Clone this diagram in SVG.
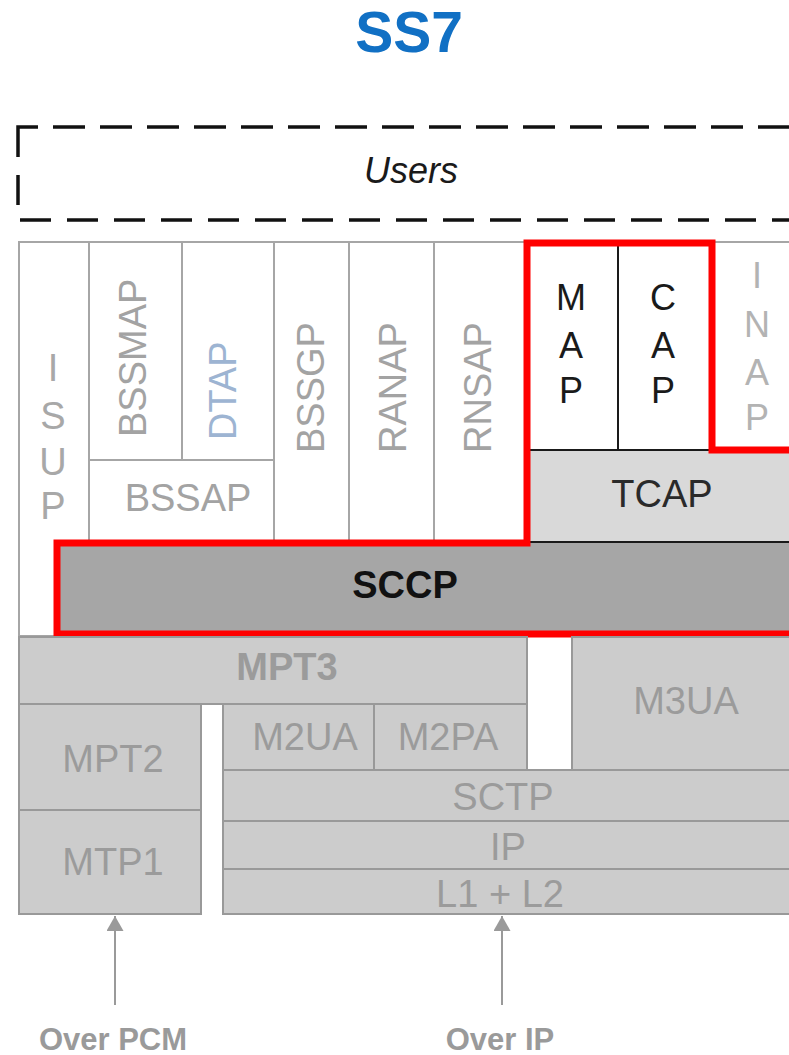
<svg xmlns="http://www.w3.org/2000/svg" width="789" height="1055" viewBox="0 0 789 1055">
  <style>
    text { font-family: "Liberation Sans", Arial, sans-serif; }
    .title { font-size: 57px; font-weight: bold; fill: #1170c4; text-anchor: middle; }
    .users { font-size: 36px; font-style: italic; fill: #1a1a1a; text-anchor: middle; }
    .dash { fill: none; stroke: #111; stroke-width: 3.5; }
    .col { fill: #ffffff; stroke: #a6a6a6; stroke-width: 2; }
    .colk { fill: #ffffff; stroke: #1a1a1a; stroke-width: 2; }
    .up { font-size: 38px; fill: #a3a3a3; }
    .stk { font-size: 36px; text-anchor: middle; }
    .isup { font-size: 38px; fill: #a8a8a8; text-anchor: middle; }
    .low { fill: #cccccc; stroke: #999999; stroke-width: 2; }
    .lt { font-size: 38px; fill: #9b9b9b; text-anchor: middle; }
    .red { fill: none; stroke: #ff0000; stroke-width: 7; stroke-linejoin: miter; }
    .conn { stroke: #9a9a9a; stroke-width: 2; fill: none; }
    .foot { font-size: 31px; font-weight: bold; fill: #9a9a9a; text-anchor: middle; }
  </style>
  <defs>
    <marker id="arrowhead" viewBox="0 0 15 17" refX="15" refY="8.5" markerWidth="15" markerHeight="17" markerUnits="userSpaceOnUse" orient="auto">
      <path d="M0,0 L15,8.5 L0,17 Z" fill="#9a9a9a"/>
    </marker>
  </defs>

  <rect width="789" height="1055" fill="#ffffff"/>

  <text id="title" class="title" x="409" y="52">SS7</text>

  <!-- Users layer (dashed frame) -->
  <g id="users">
    <path class="dash" d="M18,157 V127 H38"/>
    <path class="dash" d="M53,127 H800" stroke-dasharray="32 15"/>
    <path class="dash" d="M18,175 V205"/>
    <path class="dash" d="M20,220 H800" stroke-dasharray="31 16"/>
    <text class="users" x="411" y="183">Users</text>
  </g>

  <!-- Upper protocol columns -->
  <g id="isup">
    <rect class="col" x="19" y="242" width="70" height="394"/>
    <text class="isup" x="53" y="381">I</text>
    <text class="isup" x="53" y="429">S</text>
    <text class="isup" x="53" y="475">U</text>
    <text class="isup" x="53" y="519">P</text>
  </g>
  <g id="bssmap">
    <rect class="col" x="89" y="242" width="93" height="218"/>
    <text class="up" transform="translate(146,437) rotate(-90)">BSSMAP</text>
  </g>
  <g id="dtap">
    <rect class="col" x="182" y="242" width="92" height="218"/>
    <text class="up" transform="translate(236,440) rotate(-90)" style="fill:#9db4d2">DTAP</text>
  </g>
  <g id="bssap">
    <rect class="col" x="89" y="460" width="185" height="83"/>
    <text class="up" x="188" y="511" text-anchor="middle">BSSAP</text>
  </g>
  <g id="bssgp">
    <rect class="col" x="274" y="242" width="75" height="301"/>
    <text class="up" transform="translate(324,453) rotate(-90)">BSSGP</text>
  </g>
  <g id="ranap">
    <rect class="col" x="349" y="242" width="85" height="301"/>
    <text class="up" transform="translate(406,453) rotate(-90)">RANAP</text>
  </g>
  <g id="rnsap">
    <rect class="col" x="434" y="242" width="93" height="301"/>
    <text class="up" transform="translate(491,453) rotate(-90)">RNSAP</text>
  </g>
  <g id="inap">
    <rect class="col" x="712" y="242" width="90" height="208"/>
    <text class="stk" x="757" y="288" fill="#b3b3b3">I</text>
    <text class="stk" x="757" y="337" fill="#b3b3b3">N</text>
    <text class="stk" x="757" y="385" fill="#b3b3b3">A</text>
    <text class="stk" x="757" y="430" fill="#b3b3b3">P</text>
  </g>
  <g id="map">
    <rect class="colk" x="527" y="243" width="91" height="207"/>
    <text class="stk" x="571" y="310" fill="#1a1a1a">M</text>
    <text class="stk" x="571" y="358" fill="#1a1a1a">A</text>
    <text class="stk" x="571" y="403" fill="#1a1a1a">P</text>
  </g>
  <g id="cap">
    <rect class="colk" x="618" y="243" width="94" height="207"/>
    <text class="stk" x="663" y="310" fill="#1a1a1a">C</text>
    <text class="stk" x="663" y="358" fill="#1a1a1a">A</text>
    <text class="stk" x="663" y="403" fill="#1a1a1a">P</text>
  </g>
  <g id="tcap">
    <rect x="527" y="450" width="275" height="92" fill="#d9d9d9" stroke="#1a1a1a" stroke-width="2"/>
    <text x="662" y="507" font-size="38" fill="#2a2a2a" text-anchor="middle">TCAP</text>
  </g>
  <g id="sccp">
    <rect x="57" y="543" width="745" height="91" fill="#a6a6a6"/>
    <text x="405" y="598" font-size="38" font-weight="bold" fill="#111111" text-anchor="middle">SCCP</text>
  </g>

  <!-- Highlight outline around SCCP, TCAP, MAP and CAP -->
  <path id="highlight" class="red" d="M802,450 H712 V243 H527 V543 H57 V634 H802"/>

  <!-- Lower transport stack -->
  <g id="mpt3">
    <rect class="low" x="19" y="637" width="508" height="67"/>
    <text class="lt" x="287" y="680" font-weight="bold">MPT3</text>
  </g>
  <g id="m3ua">
    <rect class="low" x="572" y="637" width="230" height="133"/>
    <text class="lt" x="686" y="714">M3UA</text>
  </g>
  <g id="mpt2">
    <rect class="low" x="19" y="704" width="182" height="106"/>
    <text class="lt" x="113" y="772">MPT2</text>
  </g>
  <g id="mtp1">
    <rect class="low" x="19" y="810" width="182" height="104"/>
    <text class="lt" x="113" y="875">MTP1</text>
  </g>
  <g id="m2ua">
    <rect class="low" x="223" y="704" width="151" height="66"/>
    <text class="lt" x="305" y="750">M2UA</text>
  </g>
  <g id="m2pa">
    <rect class="low" x="374" y="704" width="153" height="66"/>
    <text class="lt" x="448" y="750">M2PA</text>
  </g>
  <g id="sctp">
    <rect class="low" x="223" y="770" width="579" height="51"/>
    <text class="lt" x="503" y="810">SCTP</text>
  </g>
  <g id="ip">
    <rect class="low" x="223" y="821" width="579" height="48"/>
    <text class="lt" x="508" y="860">IP</text>
  </g>
  <g id="l1l2">
    <rect class="low" x="223" y="869" width="579" height="45"/>
    <text class="lt" x="500" y="907">L1 + L2</text>
  </g>

  <!-- Physical access arrows -->
  <g id="connectors">
    <line class="conn" x1="115" y1="1005" x2="115" y2="916" marker-end="url(#arrowhead)"/>
    <line class="conn" x1="502" y1="1005" x2="502" y2="916" marker-end="url(#arrowhead)"/>
  </g>
  <g id="over-pcm">
    <text class="foot" x="113" y="1050">Over PCM</text>
  </g>
  <g id="over-ip">
    <text class="foot" x="500" y="1050">Over IP</text>
  </g>
</svg>
